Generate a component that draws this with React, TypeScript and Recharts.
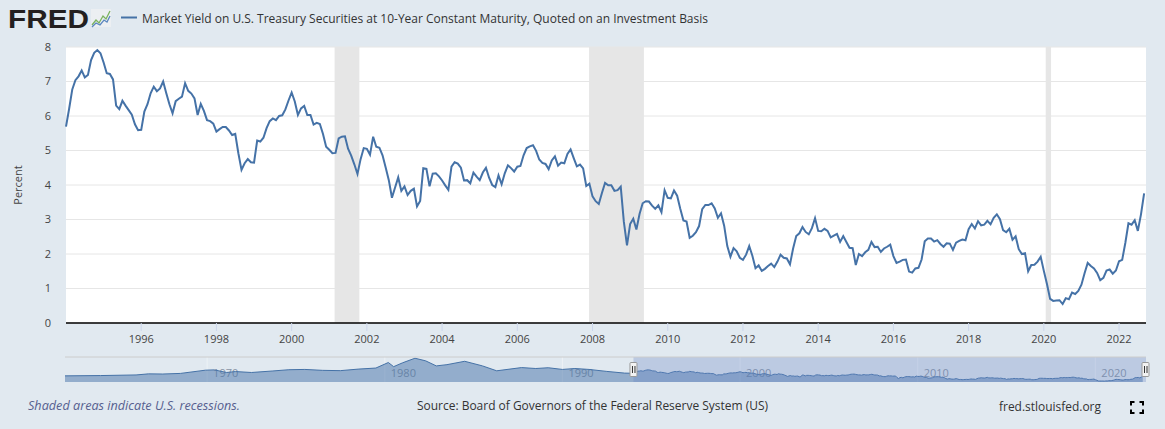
import React from 'react';
import { LineChart, Line, XAxis, YAxis, CartesianGrid, ReferenceArea, AreaChart, Area } from 'recharts';

// month-end yields, Jan 1994 .. Sep 2022
const startYear = 1994;
const yields1994to1999 = [
  5.69, 6.21, 6.77, 7.04, 7.15, 7.32, 7.12, 7.19, 7.62, 7.83, 7.91, 7.82,
  7.55, 7.24, 7.22, 7.06, 6.3, 6.2, 6.44, 6.3, 6.17, 6.04, 5.76, 5.59,
  5.6, 6.13, 6.34, 6.66, 6.85, 6.72, 6.8, 7.0, 6.66, 6.34, 6.08, 6.43,
  6.5, 6.56, 6.95, 6.73, 6.65, 6.51, 6.03, 6.35, 6.15, 5.88, 5.85, 5.78,
  5.55, 5.62, 5.68, 5.68, 5.58, 5.45, 5.48, 4.92, 4.44, 4.63, 4.75, 4.66,
  4.65, 5.29, 5.26, 5.37, 5.65, 5.85, 5.93, 5.88, 6.0, 6.02, 6.19, 6.45,
];
const yields2000s = [
  6.68, 6.42, 6.03, 6.22, 6.29, 6.03, 6.03, 5.75, 5.8, 5.77, 5.48, 5.11,
  5.02, 4.92, 4.93, 5.35, 5.4, 5.41, 5.05, 4.85, 4.6, 4.32, 4.75, 5.07,
  5.05, 4.88, 5.4, 5.11, 5.08, 4.86, 4.51, 4.14, 3.63, 3.93, 4.22, 3.83,
  3.96, 3.71, 3.83, 3.89, 3.38, 3.54, 4.49, 4.47, 3.96, 4.33, 4.34, 4.25,
  4.13, 3.99, 3.86, 4.53, 4.66, 4.62, 4.5, 4.13, 4.14, 4.05, 4.36, 4.24,
  4.14, 4.36, 4.5, 4.21, 4.0, 3.94, 4.28, 4.02, 4.34, 4.57, 4.49, 4.39,
  4.53, 4.55, 4.86, 5.07, 5.12, 5.15, 4.99, 4.74, 4.64, 4.61, 4.46, 4.71,
  4.83, 4.56, 4.65, 4.63, 4.9, 5.03, 4.78, 4.54, 4.59, 4.48, 3.97, 4.04,
  3.67, 3.53, 3.45, 3.77, 4.06, 3.99, 3.99, 3.83, 3.85, 3.95, 2.93, 2.25,
  2.87, 3.02, 2.71, 3.16, 3.47, 3.53, 3.52, 3.4, 3.31, 3.41, 3.21, 3.85,
];
const yields2010s = [
  3.63, 3.61, 3.84, 3.69, 3.31, 2.97, 2.94, 2.47, 2.53, 2.63, 2.81, 3.3,
  3.42, 3.42, 3.47, 3.32, 3.05, 3.18, 2.82, 2.23, 1.92, 2.17, 2.08, 1.89,
  1.83, 1.98, 2.23, 1.95, 1.59, 1.67, 1.51, 1.57, 1.65, 1.72, 1.62, 1.78,
  1.98, 1.89, 1.87, 1.7, 2.16, 2.52, 2.6, 2.78, 2.64, 2.57, 2.75, 3.04,
  2.67, 2.66, 2.73, 2.67, 2.48, 2.53, 2.58, 2.35, 2.52, 2.35, 2.18, 2.17,
  1.68, 2.0, 1.94, 2.05, 2.12, 2.35, 2.2, 2.21, 2.06, 2.16, 2.21, 2.27,
  1.94, 1.74, 1.78, 1.83, 1.84, 1.49, 1.46, 1.58, 1.6, 1.84, 2.37, 2.45,
  2.45, 2.36, 2.4, 2.29, 2.21, 2.31, 2.3, 2.12, 2.33, 2.38, 2.42, 2.4,
  2.72, 2.87, 2.74, 2.95, 2.83, 2.85, 2.96, 2.86, 3.05, 3.15, 3.01, 2.69,
  2.63, 2.73, 2.41, 2.51, 2.14, 2.0, 2.02, 1.5, 1.68, 1.69, 1.78, 1.92,
];
const yields2020s = [
  1.51, 1.13, 0.7, 0.64, 0.65, 0.66, 0.55, 0.72, 0.69, 0.88, 0.84, 0.93,
  1.11, 1.44, 1.74, 1.65, 1.58, 1.45, 1.24, 1.31, 1.52, 1.55, 1.43, 1.52,
  1.79, 1.83, 2.32, 2.89, 2.85, 2.98, 2.67, 3.15, 3.76,
];

const tickYears = [1996, 1998, 2000, 2002, 2004, 2006, 2008, 2010, 2012, 2014, 2016, 2018, 2020, 2022];
const yTicks = [0, 1, 2, 3, 4, 5, 6, 7, 8];

// recessions, in months since Jan 1994
const recessionStarts = [85.7, 166.9, 312.6];
const recessionEnds = [93.6, 184.4, 314.3];

// navigator: older history, rough
const navEarlyYears = [1962, 1964, 1966, 1966.7, 1967.5, 1968.5, 1969.9, 1970.4, 1971.1, 1971.6, 1972.5, 1973.7, 1974.6, 1975.5, 1976.5, 1977.5, 1978.5, 1979.5, 1980.2, 1980.5, 1981.0, 1981.7, 1982.3, 1982.9, 1983.5, 1984.5, 1985.5, 1986.3, 1987.7, 1988.5, 1989.2, 1990.0, 1990.7, 1991.5, 1992.5, 1993.5];
const navEarlyValues = [4.0, 4.2, 4.6, 5.3, 5.2, 5.6, 7.7, 7.9, 6.2, 6.8, 6.2, 7.2, 8.0, 8.2, 7.6, 7.4, 8.4, 9.1, 12.7, 10.0, 12.5, 15.5, 13.8, 10.5, 11.3, 13.5, 10.5, 7.3, 9.4, 8.8, 9.3, 8.2, 8.8, 8.2, 6.9, 5.8];
const navLabelYears = [1970, 1980, 1990, 2000, 2010, 2020];

const allYields = [...yields1994to1999, ...yields2000s, ...yields2010s, ...yields2020s];
const mainData = allYields.map((v, i) => ({ m: i, v }));
const xTicks = tickYears.map((y) => (y - startYear) * 12);
const navData = [
  ...navEarlyYears.map((t, i) => ({ t, v: navEarlyValues[i] })),
  ...allYields.map((v, i) => ({ t: startYear + i / 12, v })),
];

const font = '"Open Sans", "Noto Sans", sans-serif';
const lineColor = '#4572a7';

const navLeft = 65;
const navTop = 357;
const navW = 1081;
const navH = 25;
const navStart = 1962;
const navEnd = 2022.85;
const navX = (yr: number) => navLeft + ((yr - navStart) / (navEnd - navStart)) * navW;

function Handle({ x }: { x: number }) {
  return (
    <g>
      <rect x={x - 3.5} y={362.5} width={7} height={14} fill="#f2f2f2" stroke="#999" strokeWidth={1} rx={1} />
      <line x1={x - 1} x2={x - 1} y1={366} y2={373} stroke="#333" strokeWidth={1} />
      <line x1={x + 1.5} x2={x + 1.5} y1={366} y2={373} stroke="#333" strokeWidth={1} />
    </g>
  );
}

export default function App() {
  const selLeft = navX(startYear);
  return (
    <div style={{ position: 'absolute', left: 0, top: 0, width: 1165, height: 429, background: '#e1e9f0', overflow: 'hidden', fontFamily: font }}>
      <svg width={1165} height={429} style={{ position: 'absolute', left: 0, top: 0 }}>
        {navLabelYears.map((yr) => (
          <g key={yr}>
            <line x1={navX(yr)} x2={navX(yr)} y1={357} y2={382} stroke="#eef2f6" strokeWidth={1} />
            <text x={navX(yr) + 6} y={377} fontSize={11} fill="#8a96a6" fontFamily={font}>{yr}</text>
          </g>
        ))}
      </svg>

      <div style={{ position: 'absolute', left: 0, top: 0 }}>
        <LineChart width={1165} height={360} data={mainData} margin={{ top: 47, right: 19, bottom: 0, left: 0 }}>
          <CartesianGrid vertical={false} stroke="#e6e6e6" fill="#ffffff" fillOpacity={1} />
          {recessionStarts.map((s, i) => (
            <ReferenceArea key={i} x1={s} x2={recessionEnds[i]} y1={0} y2={8} fill="#e6e6e6" fillOpacity={1} stroke="none" />
          ))}
          <XAxis
            dataKey="m"
            type="number"
            domain={[0, 344.6]}
            ticks={xTicks}
            interval={0}
            tickFormatter={(m: number) => String(startYear + Math.round(m / 12))}
            axisLine={{ stroke: '#000', strokeWidth: 1.5 }}
            tickLine={{ stroke: '#ccd6eb' }}
            tickSize={8}
            tickMargin={4}
            height={37}
            tick={{ fill: '#444', fontSize: 11, fontFamily: font }}
          />
          <YAxis
            type="number"
            domain={[0, 8]}
            ticks={yTicks}
            interval={0}
            axisLine={false}
            tickLine={false}
            tickSize={0}
            tickMargin={15}
            width={66}
            tick={{ fill: '#444', fontSize: 11, fontFamily: font }}
          />
          <Line type="linear" dataKey="v" stroke={lineColor} strokeWidth={2} dot={false} isAnimationActive={false} />
        </LineChart>
      </div>

      <div style={{ position: 'absolute', left: navLeft, top: navTop }}>
        <AreaChart width={navW} height={navH} data={navData} margin={{ top: 0, right: 0, bottom: 0, left: 0 }}>
          <XAxis dataKey="t" type="number" domain={[navStart, navEnd]} hide />
          <YAxis type="number" domain={[0, 16.3]} hide />
          <Area type="linear" dataKey="v" stroke={lineColor} strokeWidth={1} fill={lineColor} fillOpacity={0.5} isAnimationActive={false} />
        </AreaChart>
      </div>

      <svg width={1165} height={429} style={{ position: 'absolute', left: 0, top: 0, pointerEvents: 'none' }}>
        <rect x={selLeft} y={357} width={navLeft + navW - selLeft} height={25} fill="rgb(102,133,194)" fillOpacity={0.3} />
        <line x1={navLeft} x2={navLeft + navW} y1={357} y2={357} stroke="#cccccc" strokeWidth={1} />
        <Handle x={selLeft} />
        <Handle x={navLeft + navW - 0.5} />

        <text x={8} y={27.5} fontFamily='"Liberation Sans", Arial, sans-serif' fontWeight={700} fontSize={25} fill="#231f20" textLength={81} lengthAdjust="spacingAndGlyphs">FRED</text>
        <rect x={91} y={9} width={20} height={18} fill="#eceff2" />
        <polyline points="92,25 96,20 99,23 103,16 106,19 110,11" fill="none" stroke="#7ab25f" strokeWidth={1.3} />
        <polyline points="92,27 96,23 100,25 104,20 107,22 110,16" fill="none" stroke="#5b87c0" strokeWidth={1.3} />
        <line x1={121} x2={137} y1={17.5} y2={17.5} stroke={lineColor} strokeWidth={2} />
        <text x={142} y={22.5} fontSize={12} fill="#333" fontFamily={font} textLength={566} lengthAdjust="spacingAndGlyphs">
          Market Yield on U.S. Treasury Securities at 10-Year Constant Maturity, Quoted on an Investment Basis
        </text>

        <text transform="translate(22,185) rotate(-90)" textAnchor="middle" fontSize={11} fill="#444" fontFamily={font}>Percent</text>

        <text x={28} y={410} fontSize={12} fontStyle="italic" fill="#56608f" fontFamily={font} textLength={212} lengthAdjust="spacingAndGlyphs">
          Shaded areas indicate U.S. recessions.
        </text>
        <text x={417} y={410} fontSize={12} fill="#333" fontFamily={font} textLength={351} lengthAdjust="spacingAndGlyphs">
          Source: Board of Governors of the Federal Reserve System (US)
        </text>
        <text x={999} y={410.5} fontSize={12} fill="#333" fontFamily={font} textLength={102} lengthAdjust="spacingAndGlyphs">
          fred.stlouisfed.org
        </text>
        <path
          d="M1131 405.5 V402 H1134.5 M1139.5 402 H1143 V405.5 M1143 409.5 V413 H1139.5 M1134.5 413 H1131 V409.5"
          fill="none"
          stroke="#000"
          strokeWidth={2}
        />
      </svg>
    </div>
  );
}
